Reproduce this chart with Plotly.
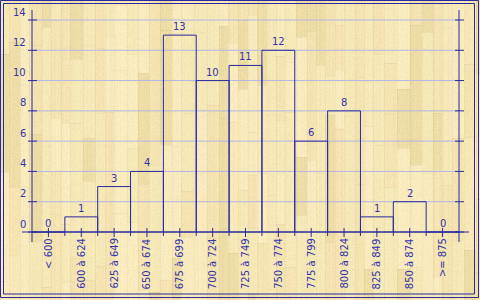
import zlib, struct, base64
import plotly.graph_objects as go

# ---------------- data ----------------
categories = ["< 600", "600 à 624", "625 à 649", "650 à 674", "675 à 699",
              "700 à 724", "725 à 749", "750 à 774", "775 à 799", "800 à 824",
              "825 à 849", "850 à 874", ">= 875"]
counts = [0, 1, 3, 4, 13, 10, 11, 12, 6, 8, 1, 2, 0]
y_ticks = [0, 2, 4, 6, 8, 10, 12, 14]

# ---------------- geometry ----------------
W, H = 480, 300
ML, MR, MT, MB = 22, 11, 10, 58
PW, PH = W - ML - MR, H - MT - MB
n = len(categories)
xpx = 427 / n            # px per category
ypx = 212 / 14           # px per unit
xr = [-0.5 - 10 / xpx, n - 0.5 + 10 / xpx]
yr = [-10 / ypx, 14 + 10 / ypx]

AXC = "#2a2a9e"
TXT = "#3434aa"
GRID = "#b4b4e4"
FONT = "DejaVu Sans"

# ---------------- wood texture (deterministic) ----------------
def hsh(a, b=0):
    x = (a * 374761393 + b * 668265263 + 1442695) & 0xffffffff
    x = ((x ^ (x >> 13)) * 1274126177) & 0xffffffff
    return ((x ^ (x >> 16)) & 0xffffffff) / 4294967296.0

pal = [(249, 235, 190), (245, 228, 178), (239, 221, 167), (247, 232, 184)]
pix = [[None] * W for _ in range(H)]
x0 = 0
k = 0
while x0 < W:
    pw = 9 + int(hsh(k, 1) * 5)
    ys = -int(hsh(k, 2) * 120)
    s = 0
    while ys < H:
        seg = 40 + int(hsh(k, 10 + s) * 120)
        tone = pal[int(hsh(k, 50 + s) * 4) % 4]
        for yy in range(max(ys, 0), min(ys + seg, H)):
            for xx in range(x0, min(x0 + pw, W)):
                g = (hsh(xx, 7) - 0.5) * 5 + (hsh(xx * 1000 + yy, 9) - 0.5) * 8
                if xx == x0:
                    g -= 8
                if yy == ys:
                    g -= 8
                pix[yy][xx] = tuple(max(0, min(255, int(c + g))) for c in tone)
        ys += seg
        s += 1
    x0 += pw
    k += 1

raw = b"".join(b"\x00" + bytes([v for p in row for v in p]) for row in pix)

def chunk(t, d):
    return struct.pack(">I", len(d)) + t + d + struct.pack(">I", zlib.crc32(t + d) & 0xffffffff)

png = (b"\x89PNG\r\n\x1a\n" + chunk(b"IHDR", struct.pack(">IIBBBBB", W, H, 8, 2, 0, 0, 0))
       + chunk(b"IDAT", zlib.compress(raw, 9)) + chunk(b"IEND", b""))
src = "data:image/png;base64," + base64.b64encode(png).decode()

# ---------------- figure ----------------
idx = list(range(n))
fig = go.Figure()
fig.add_trace(go.Bar(x=idx, y=counts, width=1,
                     marker=dict(color="rgba(0,0,0,0)", line=dict(color=AXC, width=1)),
                     hoverinfo="skip"))

def px2paper_x(p):
    return (p - ML) / PW

def px2paper_y(p):
    return (H - MB - p) / PH

shapes = []
# gridlines
for t in y_ticks[1:]:
    shapes.append(dict(type="line", xref="x", yref="y", x0=-0.5, x1=n - 0.5, y0=t, y1=t,
                       line=dict(color=GRID, width=1), layer="below"))
# axes
shapes.append(dict(type="line", xref="x", yref="paper", x0=-0.5, x1=-0.5, y0=0, y1=1,
                   line=dict(color=AXC, width=1)))
shapes.append(dict(type="line", xref="x", yref="paper", x0=n - 0.5, x1=n - 0.5, y0=0, y1=1,
                   line=dict(color=AXC, width=1)))
shapes.append(dict(type="line", xref="paper", yref="y", x0=0, x1=1, y0=0, y1=0,
                   line=dict(color=AXC, width=1)))
# y ticks (left & right)
for t in y_ticks:
    shapes.append(dict(type="line", xref="x", yref="y", x0=-0.5 - 4 / xpx, x1=-0.5 + 5 / xpx,
                       y0=t, y1=t, line=dict(color=AXC, width=1)))
    shapes.append(dict(type="line", xref="x", yref="y", x0=n - 0.5 - 4 / xpx, x1=n - 0.5 + 5 / xpx,
                       y0=t, y1=t, line=dict(color=AXC, width=1)))
# x ticks at centers
for i in idx:
    shapes.append(dict(type="line", xref="x", yref="y", x0=i, x1=i, y0=4 / ypx, y1=-5 / ypx,
                       line=dict(color=AXC, width=1)))
# boundary ticks below axis
for i in range(n - 1):
    shapes.append(dict(type="line", xref="x", yref="y", x0=i + 0.5, x1=i + 0.5, y0=0, y1=-4 / ypx,
                       line=dict(color=AXC, width=1)))
# double frame
for a, b in [(0.5, 0.5), (3.5, 3.5)]:
    shapes.append(dict(type="rect", xref="paper", yref="paper",
                       x0=px2paper_x(a), x1=px2paper_x(W - 1 - a - (1 if a > 1 else 0)),
                       y0=px2paper_y(H - 2 - a - (0 if a < 1 else 0.5)), y1=px2paper_y(a),
                       line=dict(color=AXC, width=1), fillcolor="rgba(0,0,0,0)"))

ann = []
for t in y_ticks:
    ann.append(dict(x=px2paper_x(28), xref="paper", y=t, yref="y", text=str(t),
                    xanchor="right", yanchor="middle", yshift=8, showarrow=False,
                    font=dict(family=FONT, size=10, color=TXT)))
for i, c in enumerate(categories):
    ann.append(dict(x=i, xref="x", y=0, yref="y", text=c, textangle=-90,
                    xanchor="center", yanchor="top", yshift=-4, showarrow=False,
                    font=dict(family=FONT, size=10, color=TXT)))
for i, v in enumerate(counts):
    ann.append(dict(x=i, xref="x", y=v, yref="y", text=str(v),
                    xanchor="center", yanchor="bottom", yshift=1, showarrow=False,
                    font=dict(family=FONT, size=10, color=TXT)))

fig.update_layout(
    width=W, height=H,
    margin=dict(l=ML, r=MR, t=MT, b=MB, pad=0),
    paper_bgcolor="#f4e2b0", plot_bgcolor="rgba(0,0,0,0)",
    showlegend=False,
    xaxis=dict(range=xr, visible=False, fixedrange=True),
    yaxis=dict(range=yr, visible=False, fixedrange=True),
    shapes=shapes, annotations=ann,
    images=[dict(source=src, xref="paper", yref="paper",
                 x=-ML / PW, y=1 + MT / PH, sizex=W / PW, sizey=H / PH,
                 xanchor="left", yanchor="top", sizing="stretch", layer="below")],
)

fig.write_html("out.html", config={"displayModeBar": False})
